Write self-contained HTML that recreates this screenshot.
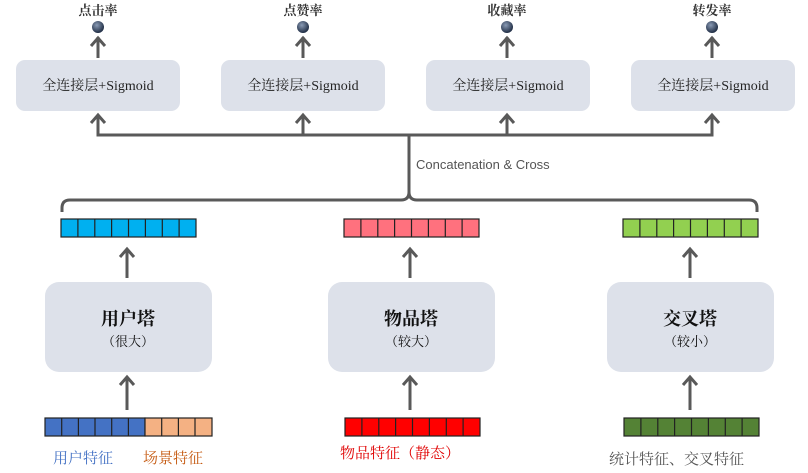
<!DOCTYPE html>
<html><head><meta charset="utf-8"><style>
body{margin:0;background:#fff;}
svg{display:block;}
.cn{font-family:"Liberation Serif","Noto Serif CJK SC",serif;}
</style></head><body>
<svg width="808" height="473" viewBox="0 0 808 473" xmlns="http://www.w3.org/2000/svg">
<defs>
<radialGradient id="ball" cx="40%" cy="35%" r="65%"><stop offset="0" stop-color="#8a9bb5"/><stop offset="1" stop-color="#1f2d44"/></radialGradient>
<g id="ah"><polyline points="-7,8 0,0 7,8" fill="none" stroke="#595959" stroke-width="3"/></g>
</defs>
<g class="cn" font-size="13" font-weight="bold" fill="#333" text-anchor="middle">
<text x="98" y="15">点击率</text><text x="303" y="15">点赞率</text><text x="507" y="15">收藏率</text><text x="712" y="15">转发率</text>
</g>
<g fill="url(#ball)"><circle cx="98" cy="27" r="6"/><circle cx="303" cy="27" r="6"/><circle cx="507" cy="27" r="6"/><circle cx="712" cy="27" r="6"/></g>
<g stroke="#595959" stroke-width="3" fill="none">
<line x1="98" y1="58" x2="98" y2="37"/><line x1="303" y1="58" x2="303" y2="37"/><line x1="507" y1="58" x2="507" y2="37"/><line x1="712" y1="58" x2="712" y2="37"/>
<polyline points="98,115 98,135 712,135 712,115"/><line x1="303" y1="135" x2="303" y2="115"/><line x1="507" y1="135" x2="507" y2="115"/>
<path d="M409,135 V192 Q409,200 401,200 H70 Q62,200 62,208 V212 M409,192 Q409,200 417,200 H749 Q757,200 757,208 V212"/>
<line x1="127" y1="278" x2="127" y2="250"/><line x1="410" y1="278" x2="410" y2="250"/><line x1="690" y1="278" x2="690" y2="250"/>
<line x1="127" y1="410" x2="127" y2="378"/><line x1="410" y1="410" x2="410" y2="378"/><line x1="690" y1="410" x2="690" y2="378"/>
</g>
<use href="#ah" x="98" y="38"/><use href="#ah" x="303" y="38"/><use href="#ah" x="507" y="38"/><use href="#ah" x="712" y="38"/>
<use href="#ah" x="98" y="115"/><use href="#ah" x="303" y="115"/><use href="#ah" x="507" y="115"/><use href="#ah" x="712" y="115"/>
<use href="#ah" x="127" y="249"/><use href="#ah" x="410" y="249"/><use href="#ah" x="690" y="249"/>
<use href="#ah" x="127" y="377"/><use href="#ah" x="410" y="377"/><use href="#ah" x="690" y="377"/>
<g fill="#dde1ea">
<rect x="16" y="60" width="164" height="51" rx="9"/><rect x="221" y="60" width="164" height="51" rx="9"/><rect x="426" y="60" width="164" height="51" rx="9"/><rect x="631" y="60" width="164" height="51" rx="9"/>
<rect x="45" y="282" width="167" height="90" rx="14"/><rect x="328" y="282" width="167" height="90" rx="14"/><rect x="607" y="282" width="167" height="90" rx="14"/>
</g>
<g class="cn" font-size="14" fill="#222" text-anchor="middle">
<text x="98" y="90">全连接层+Sigmoid</text><text x="303" y="90">全连接层+Sigmoid</text><text x="508" y="90">全连接层+Sigmoid</text><text x="713" y="90">全连接层+Sigmoid</text>
</g>
<g class="cn" text-anchor="middle" fill="#111">
<text x="128" y="325" font-size="18" font-weight="bold">用户塔</text><text x="128" y="346" font-size="13">（很大）</text>
<text x="411" y="325" font-size="18" font-weight="bold">物品塔</text><text x="411" y="346" font-size="13">（较大）</text>
<text x="690" y="325" font-size="18" font-weight="bold">交叉塔</text><text x="690" y="346" font-size="13">（较小）</text>
</g>
<text x="416" y="169" font-family="Liberation Sans Narrow,Liberation Sans,sans-serif" font-size="13" fill="#555">Concatenation &amp; Cross</text>
<g stroke="#222" stroke-width="1.2">
<rect x="61" y="219" width="135" height="18" fill="#00b0f0"/>
<rect x="344" y="219" width="135" height="18" fill="#ff717e"/>
<rect x="623" y="219" width="135" height="18" fill="#92d050"/>
<rect x="45" y="418" width="100" height="18" fill="#4472c4"/><rect x="145" y="418" width="67" height="18" fill="#f4b183"/>
<rect x="345" y="418" width="135" height="18" fill="#ff0000"/>
<rect x="624" y="418" width="135" height="18" fill="#548235"/>
<path fill="none" d="M77.9,219v18M94.8,219v18M111.6,219v18M128.5,219v18M145.4,219v18M162.3,219v18M179.1,219v18
M360.9,219v18M377.8,219v18M394.6,219v18M411.5,219v18M428.4,219v18M445.3,219v18M462.1,219v18
M639.9,219v18M656.8,219v18M673.6,219v18M690.5,219v18M707.4,219v18M724.3,219v18M741.1,219v18
M61.7,418v18M78.4,418v18M95,418v18M111.7,418v18M128.4,418v18M161.7,418v18M178.4,418v18M195,418v18
M361.9,418v18M378.8,418v18M395.6,418v18M412.5,418v18M429.4,418v18M446.3,418v18M463.1,418v18
M640.9,418v18M657.8,418v18M674.6,418v18M691.5,418v18M708.4,418v18M725.3,418v18M742.1,418v18"/>
</g>
<g class="cn" font-size="15">
<text x="53" y="463" fill="#4472c4">用户特征</text><text x="143" y="463" fill="#c55a11">场景特征</text>
<text x="340" y="458" fill="#e00000">物品特征（静态）</text>
<text x="609" y="464" fill="#555">统计特征、交叉特征</text>
</g>
</svg>
</body></html>
